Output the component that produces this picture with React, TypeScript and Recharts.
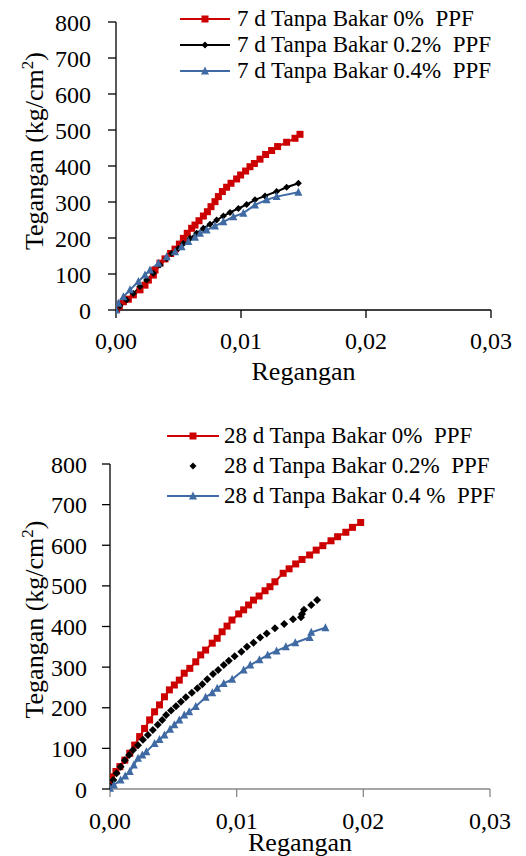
import React from 'react';
import { LineChart, Line, XAxis, YAxis, Legend } from 'recharts';

// ---------- Chart 1 : 7 days ----------
const top0Strain = [0.00005, 0.00027, 0.00059, 0.00099, 0.00139, 0.00192, 0.00232, 0.00259, 0.00299, 0.00312, 0.00352, 0.00392, 0.00437, 0.00472, 0.00507, 0.00539, 0.0057, 0.00605, 0.00632, 0.00664, 0.00699, 0.00731, 0.0076, 0.00792, 0.00819, 0.00851, 0.00885, 0.0092, 0.00965, 0.00997, 0.01037, 0.01072, 0.01107, 0.01152, 0.01197, 0.01245, 0.01293, 0.01365, 0.01432, 0.01472];
const top0Stress = [2, 11, 23, 30, 42, 56, 69, 83, 97, 111, 130, 142, 157, 169, 183, 199, 213, 227, 236, 248, 261, 273, 287, 301, 315, 329, 341, 352, 364, 375, 386, 398, 407, 419, 432, 443, 454, 466, 477, 488];

const top2Strain = [0, 0.00032, 0.00085, 0.00139, 0.00192, 0.00245, 0.00299, 0.00352, 0.00405, 0.00445, 0.00499, 0.00539, 0.00592, 0.00645, 0.00699, 0.00752, 0.00805, 0.00859, 0.00912, 0.00979, 0.01045, 0.01112, 0.01192, 0.01285, 0.01365, 0.01459];
const top2Stress = [0, 12, 28, 46, 65, 83, 102, 125, 143, 157, 171, 185, 199, 213, 227, 238, 250, 261, 271, 282, 293, 306, 317, 329, 341, 352];

const top4Strain = [0, 0.00019, 0.00059, 0.00112, 0.00179, 0.00232, 0.00272, 0.00339, 0.00405, 0.00472, 0.00525, 0.00579, 0.00632, 0.00672, 0.00725, 0.00792, 0.00859, 0.00939, 0.01019, 0.01112, 0.01205, 0.01285, 0.01459];
const top4Stress = [0, 19, 37, 56, 79, 97, 111, 130, 148, 162, 176, 190, 202, 213, 222, 233, 245, 259, 269, 292, 306, 315, 327];

// ---------- Chart 2 : 28 days ----------
const bot0Strain = [0, 0.00013, 0.00047, 0.00078, 0.00117, 0.00156, 0.00195, 0.00234, 0.00273, 0.00313, 0.00352, 0.00391, 0.0043, 0.00469, 0.00508, 0.00547, 0.00586, 0.0063, 0.00677, 0.00716, 0.00755, 0.00807, 0.00846, 0.00885, 0.00924, 0.00963, 0.01016, 0.01055, 0.01094, 0.01133, 0.01177, 0.01224, 0.01263, 0.01302, 0.01367, 0.01414, 0.01466, 0.01516, 0.01576, 0.01628, 0.0168, 0.01745, 0.01797, 0.01862, 0.01914, 0.01979];
const bot0Stress = [14, 30, 43, 55, 71, 88, 108, 129, 149, 170, 190, 207, 227, 244, 256, 268, 285, 297, 313, 330, 342, 359, 371, 387, 401, 416, 431, 441, 453, 465, 475, 488, 498, 510, 531, 542, 554, 565, 576, 588, 599, 611, 621, 632, 644, 656];

const bot2Strain = [0, 0.00026, 0.00052, 0.00084, 0.00117, 0.00151, 0.00182, 0.00221, 0.0026, 0.00299, 0.00338, 0.00377, 0.00412, 0.00443, 0.00482, 0.00521, 0.0056, 0.00599, 0.00646, 0.0069, 0.00729, 0.00768, 0.00813, 0.00854, 0.00898, 0.00938, 0.00984, 0.01037, 0.01081, 0.01133, 0.01185, 0.01237, 0.01302, 0.01375, 0.01445, 0.01508, 0.01516, 0.01531, 0.01589, 0.01635];
const bot2Stress = [7, 22, 39, 55, 71, 84, 96, 108, 121, 133, 145, 158, 170, 182, 193, 204, 215, 226, 237, 248, 258, 270, 283, 293, 305, 316, 327, 338, 350, 360, 373, 383, 396, 406, 418, 423, 431, 441, 453, 465];

const bot4Strain = [0, 0.00031, 0.00084, 0.0012, 0.00156, 0.00188, 0.00221, 0.00255, 0.00287, 0.00352, 0.00391, 0.0043, 0.00474, 0.00508, 0.00547, 0.00586, 0.00625, 0.00677, 0.00755, 0.00807, 0.00846, 0.00898, 0.00964, 0.01055, 0.01107, 0.0118, 0.01245, 0.01315, 0.01388, 0.01463, 0.01576, 0.01589, 0.01701];
const bot4Stress = [2, 10, 22, 32, 43, 59, 76, 84, 92, 112, 122, 133, 147, 158, 170, 182, 190, 203, 226, 237, 248, 260, 270, 293, 305, 318, 330, 340, 350, 360, 373, 386, 397];

const yTicks = [0, 100, 200, 300, 400, 500, 600, 700, 800];
const xTicks = [0, 0.01, 0.02, 0.03];

const topNames = ['7 d Tanpa Bakar 0%  PPF', '7 d Tanpa Bakar 0.2%  PPF', '7 d Tanpa Bakar 0.4%  PPF'];
const botNames = ['28 d Tanpa Bakar 0%  PPF', '28 d Tanpa Bakar 0.2%  PPF', '28 d Tanpa Bakar 0.4 %  PPF'];

const RED = '#CC0000';
const BLACK = '#000000';
const BLUE = '#3F6AA3';
const FONT = 'Liberation Serif';

const zip = (xs: number[], ys: number[]) => xs.map((x, i) => ({ x, y: ys[i] }));

type Shape = 'square' | 'diamond' | 'triangle';

const drawMarker = (shape: Shape, cx: number, cy: number, color: string, s: number, key?: any) => {
  if (shape === 'square') {
    return <rect key={key} x={cx - s / 2} y={cy - s / 2} width={s} height={s} fill={color} />;
  }
  if (shape === 'diamond') {
    const h = s / 2;
    return <polygon key={key} points={`${cx},${cy - h} ${cx + h},${cy} ${cx},${cy + h} ${cx - h},${cy}`} fill={color} />;
  }
  const h = s / 2;
  return <polygon key={key} points={`${cx},${cy - h - 1} ${cx + h + 0.5},${cy + h} ${cx - h - 0.5},${cy + h}`} fill={color} />;
};

const makeDot = (shape: Shape, color: string, s: number) => (props: any) => {
  const { cx, cy, index } = props;
  if (cx == null || cy == null) return <g key={`d${index}`} />;
  return drawMarker(shape, cx, cy, color, s, `d${index}`);
};

type Series = { name: string; data: { x: number; y: number }[]; color: string; shape: Shape; line: boolean; size: number };

const topSeries: Series[] = [
  { name: topNames[0], data: zip(top0Strain, top0Stress), color: RED, shape: 'square', line: true, size: 7 },
  { name: topNames[1], data: zip(top2Strain, top2Stress), color: BLACK, shape: 'diamond', line: true, size: 7 },
  { name: topNames[2], data: zip(top4Strain, top4Stress), color: BLUE, shape: 'triangle', line: true, size: 7 },
];

const botSeries: Series[] = [
  { name: botNames[0], data: zip(bot0Strain, bot0Stress), color: RED, shape: 'square', line: true, size: 7 },
  { name: botNames[1], data: zip(bot2Strain, bot2Stress), color: BLACK, shape: 'diamond', line: false, size: 8 },
  { name: botNames[2], data: zip(bot4Strain, bot4Stress), color: BLUE, shape: 'triangle', line: true, size: 7 },
];

const fmtX = (v: number) => v.toFixed(2).replace('.', ',');

const makeLegend = (series: Series[], rowH: number, lineW: number, gap: number) => () => (
  <div style={{ fontFamily: FONT, fontSize: 23, color: '#000', lineHeight: `${rowH}px` }}>
    {series.map((s, i) => (
      <div key={i} style={{ display: 'flex', alignItems: 'center', height: rowH, whiteSpace: 'pre' }}>
        <svg width={lineW} height={12} style={{ display: 'block' }}>
          {s.line && <line x1={0} y1={6} x2={lineW} y2={6} stroke={s.color} strokeWidth={2} />}
          {drawMarker(s.shape, lineW / 2, 6, s.color, 7)}
        </svg>
        <span style={{ marginLeft: gap, fontFamily: FONT }}>{s.name}</span>
      </div>
    ))}
  </div>
);

const YLabel = (labelX: number, shift: number) => (props: any) => {
  const vb = props.viewBox || {};
  const cy = (vb.y || 0) + (vb.height || 0) / 2 + shift;
  return (
    <text
      x={labelX}
      y={cy}
      transform={`rotate(-90, ${labelX}, ${cy})`}
      textAnchor="middle"
      fontFamily={FONT}
      fontSize={26}
      fill="#000"
    >
      Tegangan (kg/cm<tspan dy={-10} fontSize={17}>2</tspan><tspan dy={10}>)</tspan>
    </text>
  );
};

const XLabel = (dyBase: number) => (props: any) => {
  const vb = props.viewBox || {};
  const cx = (vb.x || 0) + (vb.width || 0) / 2;
  return (
    <text x={cx} y={(vb.y || 0) + dyBase} textAnchor="middle" fontFamily={FONT} fontSize={26} fill="#000">
      Regangan
    </text>
  );
};

type ChartProps = {
  series: Series[];
  width: number;
  height: number;
  margin: { top: number; right: number; left: number; bottom: number };
  yAxisW: number;
  xAxisH: number;
  xAxisColor: string;
  yTickMargin: number;
  xTickMargin: number;
  labelX: number;
  labelShift: number;
  xLabelDy: number;
  legendPos: { top: number; left: number };
  legendRowH: number;
  legendLineW: number;
  legendGap: number;
};

const tickStyle = { fill: '#000', fontSize: 24, fontFamily: FONT } as any;

const StressStrainChart = (p: ChartProps) => (
  <LineChart width={p.width} height={p.height} margin={p.margin}>
    <XAxis
      type="number"
      dataKey="x"
      domain={[0, 0.03]}
      ticks={xTicks}
      tickFormatter={fmtX}
      allowDataOverflow
      height={p.xAxisH}
      stroke={p.xAxisColor}
      tickSize={8}
      tickMargin={p.xTickMargin}
      tick={tickStyle}
      axisLine={{ stroke: p.xAxisColor, strokeWidth: 1.3 }}
      tickLine={{ stroke: p.xAxisColor, strokeWidth: 1.3 }}
      label={{ content: XLabel(p.xLabelDy) } as any}
    />
    <YAxis
      type="number"
      dataKey="y"
      domain={[0, 800]}
      ticks={yTicks}
      width={p.yAxisW}
      stroke="#000"
      tickSize={8}
      tickMargin={p.yTickMargin}
      tick={tickStyle}
      axisLine={{ stroke: '#000', strokeWidth: 1.3 }}
      tickLine={{ stroke: '#000', strokeWidth: 1.3 }}
      label={{ content: YLabel(p.labelX, p.labelShift) } as any}
    />
    <Legend
      layout="vertical"
      align="center"
      verticalAlign="middle"
      content={makeLegend(p.series, p.legendRowH, p.legendLineW, p.legendGap)}
      wrapperStyle={{ top: p.legendPos.top, left: p.legendPos.left, width: 'auto' }}
    />
    {p.series.map((s, i) => (
      <Line
        key={i}
        data={s.data}
        dataKey="y"
        name={s.name}
        type="linear"
        stroke={s.line ? s.color : 'none'}
        strokeWidth={s.line ? 2 : 0}
        dot={makeDot(s.shape, s.color, s.size)}
        activeDot={false}
        isAnimationActive={false}
      />
    ))}
  </LineChart>
);

export default function App() {
  return (
    <div style={{ position: 'absolute', left: 0, top: 0, width: 526, height: 856, background: '#fff', fontFamily: FONT }}>
      <div style={{ position: 'absolute', left: 0, top: 0 }}>
        <StressStrainChart
          series={topSeries}
          width={526}
          height={410}
          margin={{ top: 22, right: 35, left: 0, bottom: 0 }}
          yAxisW={116}
          xAxisH={100}
          xAxisColor="#000"
          yTickMargin={17}
          xTickMargin={14}
          labelX={43}
          labelShift={-15}
          xLabelDy={70}
          legendPos={{ top: 6, left: 180 }}
          legendRowH={26}
          legendLineW={50}
          legendGap={7}
        />
      </div>
      <div style={{ position: 'absolute', left: 0, top: 420 }}>
        <StressStrainChart
          series={botSeries}
          width={526}
          height={436}
          margin={{ top: 44, right: 36, left: 0, bottom: 0 }}
          yAxisW={110}
          xAxisH={67}
          xAxisColor="#888888"
          yTickMargin={15}
          xTickMargin={15}
          labelX={43}
          labelShift={-7}
          xLabelDy={62}
          legendPos={{ top: 1, left: 167 }}
          legendRowH={30}
          legendLineW={52}
          legendGap={5}
        />
      </div>
    </div>
  );
}
